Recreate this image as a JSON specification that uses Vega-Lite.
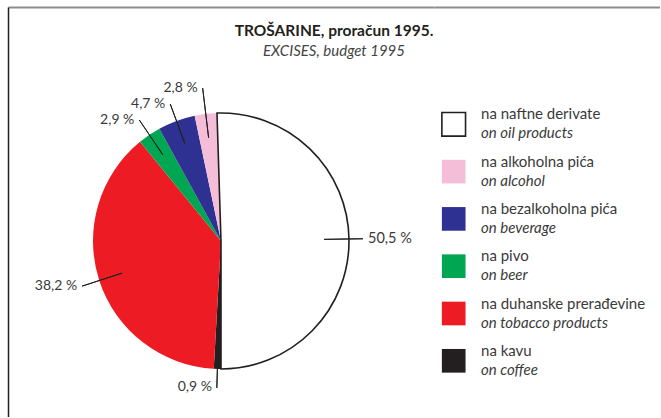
{
  "$schema": "https://vega.github.io/schema/vega-lite/v6.json",
  "padding": {"left": 8, "top": 7, "right": 0, "bottom": 0},
  "background": "white",
  "title": {
    "text": "TROŠARINE, proračun 1995.",
    "subtitle": "EXCISES, budget 1995",
    "anchor": "middle",
    "offset": -52,
    "font": "Lato",
    "fontSize": 15.5,
    "fontWeight": "bold",
    "color": "#231f20",
    "subtitleFont": "Lato",
    "subtitleFontSize": 15,
    "subtitleFontStyle": "italic",
    "subtitleColor": "#444444",
    "subtitlePadding": 5
  },
  "datasets": {
    "ex": [
      {"idx": 1, "cat": "oil", "value": 50.5, "lab": "50,5 %", "hr": "na naftne derivate", "en": "on oil products"},
      {"idx": 2, "cat": "coffee", "value": 0.9, "lab": "0,9 %", "hr": "na kavu", "en": "on coffee"},
      {"idx": 3, "cat": "tobacco", "value": 38.2, "lab": "38,2 %", "hr": "na duhanske prerađevine", "en": "on tobacco products"},
      {"idx": 4, "cat": "beer", "value": 2.9, "lab": "2,9 %", "hr": "na pivo", "en": "on beer"},
      {"idx": 5, "cat": "beverage", "value": 4.7, "lab": "4,7 %", "hr": "na bezalkoholna pića", "en": "on beverage"},
      {"idx": 6, "cat": "alcohol", "value": 2.8, "lab": "2,8 %", "hr": "na alkoholna pića", "en": "on alcohol"}
    ]
  },
  "spacing": 0,
  "hconcat": [
    {
      "width": 426,
      "height": 410,
      "data": {"name": "ex"},
      "encoding": {
        "x": {"datum": 0.5, "type": "quantitative", "scale": {"domain": [0, 1], "nice": false, "zero": false},
              "axis": {"orient": "top", "domainColor": "#8c8c8c", "domainWidth": 2, "ticks": false, "labels": false, "grid": false, "title": null}},
        "y": {"datum": 0.4293, "type": "quantitative", "scale": {"domain": [0, 1], "nice": false, "zero": false},
              "axis": {"orient": "left", "domainColor": "#231f20", "domainWidth": 1.5, "ticks": false, "labels": false, "grid": false, "title": null}}
      },
      "layer": [
        {
          "mark": {"type": "arc", "outerRadius": 128},
          "encoding": {
            "theta": {"field": "value", "type": "quantitative", "stack": true, "scale": {"domain": [0, 100], "range": [-0.0314, 6.2518]}},
            "order": {"field": "idx", "type": "quantitative"},
            "color": {"field": "cat", "type": "nominal", "legend": null,
                      "scale": {"domain": ["oil", "alcohol", "beverage", "beer", "tobacco", "coffee"],
                                "range": ["#ffffff", "#f5bed8", "#2e3192", "#00a651", "#ed1c24", "#231f20"]}}
          }
        },
        {
          "mark": {"type": "arc", "outerRadius": 128, "filled": false, "stroke": "#231f20"},
          "encoding": {
            "theta": {"field": "value", "type": "quantitative", "stack": true, "scale": {"domain": [0, 100], "range": [-0.0314, 6.2518]}},
            "order": {"field": "idx", "type": "quantitative"},
            "strokeWidth": {"condition": {"test": "datum.cat === 'oil'", "value": 1.6}, "value": 0}
          }
        },
        {
          "transform": [
            {"stack": "value", "groupby": [], "sort": [{"field": "idx", "order": "ascending"}], "as": ["s0", "s1"]},
            {"fold": ["s0", "s1"], "as": ["edge", "ang"]},
            {"aggregate": [{"op": "mean", "field": "ang", "as": "mid"}], "groupby": ["cat", "lab", "idx"]}
          ],
          "encoding": {
            "theta": {"field": "mid", "type": "quantitative", "stack": null, "scale": {"domain": [0, 100], "range": [-0.0314, 6.2518]}}
          },
          "layer": [
            {
              "transform": [{"filter": {"field": "cat", "oneOf": ["tobacco", "beer", "beverage"]}}],
              "mark": {"type": "arc", "innerRadius": 104, "outerRadius": 146, "filled": false, "stroke": "#231f20", "strokeWidth": 1},
              "encoding": {"theta2": {"field": "mid"}}
            },
            {
              "transform": [{"filter": {"field": "cat", "equal": "alcohol"}}],
              "mark": {"type": "arc", "innerRadius": 104, "outerRadius": 154, "filled": false, "stroke": "#231f20", "strokeWidth": 1},
              "encoding": {"theta2": {"field": "mid"}}
            },
            {
              "transform": [{"filter": {"field": "cat", "equal": "coffee"}}],
              "mark": {"type": "arc", "innerRadius": 127, "outerRadius": 147, "filled": false, "stroke": "#231f20", "strokeWidth": 1},
              "encoding": {"theta2": {"field": "mid"}}
            },
            {
              "transform": [{"filter": {"field": "cat", "equal": "oil"}}],
              "mark": {"type": "arc", "innerRadius": 103, "outerRadius": 142, "filled": false, "stroke": "#231f20", "strokeWidth": 1},
              "encoding": {"theta2": {"field": "mid"}}
            },
            {
              "transform": [{"filter": {"field": "cat", "oneOf": ["tobacco", "beer", "beverage", "coffee"]}}],
              "mark": {"type": "text", "radius": 146, "align": "right", "baseline": "middle", "dx": -5, "font": "Lato", "fontSize": 14, "color": "#3a3a3a"},
              "encoding": {"text": {"field": "lab"}}
            },
            {
              "transform": [{"filter": {"field": "cat", "equal": "alcohol"}}],
              "mark": {"type": "text", "radius": 154, "align": "right", "baseline": "middle", "dx": -5, "font": "Lato", "fontSize": 14, "color": "#3a3a3a"},
              "encoding": {"text": {"field": "lab"}}
            },
            {
              "transform": [{"filter": {"field": "cat", "equal": "oil"}}],
              "mark": {"type": "text", "radius": 142, "align": "left", "baseline": "middle", "dx": 5, "font": "Lato", "fontSize": 14.5, "color": "#3a3a3a"},
              "encoding": {"text": {"field": "lab"}}
            }
          ]
        }
      ]
    },
    {
      "width": 226,
      "height": 410,
      "data": {"name": "ex"},
      "encoding": {
        "y": {"field": "cat", "type": "nominal", "sort": ["oil", "alcohol", "beverage", "beer", "tobacco", "coffee"],
              "scale": {"type": "point", "range": [117.3, 353.8], "padding": 0}, "axis": null}
      },
      "layer": [
        {
          "mark": {"type": "square", "size": 560, "filled": true, "stroke": "#231f20", "opacity": 1},
          "encoding": {
            "x": {"datum": 0.0872, "type": "quantitative", "scale": {"domain": [0, 1], "nice": false, "zero": false},
                  "axis": {"orient": "top", "domainColor": "#8c8c8c", "domainWidth": 2, "ticks": false, "labels": false, "grid": false, "title": null}},
            "color": {"field": "cat", "type": "nominal", "legend": null,
                      "scale": {"domain": ["oil", "alcohol", "beverage", "beer", "tobacco", "coffee"],
                                "range": ["#ffffff", "#f5bed8", "#2e3192", "#00a651", "#ed1c24", "#231f20"]}},
            "strokeWidth": {"condition": {"test": "datum.cat === 'oil'", "value": 1.6}, "value": 0}
          }
        },
        {
          "mark": {"type": "text", "align": "left", "baseline": "middle", "dy": -10, "font": "Lato", "fontSize": 15, "color": "#3a3a3a"},
          "encoding": {
            "x": {"datum": 0.208, "type": "quantitative"},
            "text": {"field": "hr"}
          }
        },
        {
          "mark": {"type": "text", "align": "left", "baseline": "middle", "dy": 9, "font": "Lato", "fontSize": 15, "fontStyle": "italic", "color": "#3a3a3a"},
          "encoding": {
            "x": {"datum": 0.208, "type": "quantitative"},
            "text": {"field": "en"}
          }
        }
      ]
    }
  ],
  "config": {
    "view": {"stroke": null},
    "font": "Lato"
  }
}
